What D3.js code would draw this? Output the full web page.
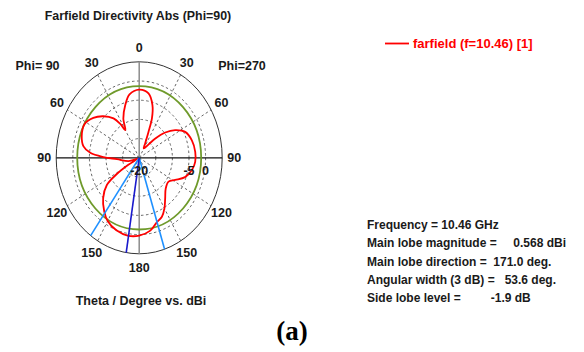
<!DOCTYPE html>
<html>
<head>
<meta charset="utf-8">
<script src="https://cdn.jsdelivr.net/npm/d3@7/dist/d3.min.js"></script>
<style>
  html, body { margin: 0; padding: 0; background: #fff; }
  svg { display: block; }
  text { font-family: "Liberation Sans", Arial, sans-serif; font-weight: bold; fill: #1a1a1a; }
</style>
</head>
<body>
<svg id="chart" width="584" height="352"></svg>
<script>
// Directivity cut at Phi=90 (left half of the plot), theta in degrees, value in dBi
const phi90Theta = [0, 10, 17, 25, 30, 33, 37, 45, 53, 62, 72, 80, 85, 89, 93, 105, 113, 119, 122, 126, 134, 143, 150, 160, 171, 180];
const phi90Dbi   = [-2.25, -3.25, -5.65, -8.7, -11.65, -9.4, -7.15, -4.7, -2.7, -1.33, -1.8, -2.97, -5.2, -9.25, -13.3, -16.7, -19.3, -16.25, -12.15, -7.95, -4.9, -2.5, -1.0, 0.1, 0.568, 0.25];

// Directivity cut at Phi=270 (right half of the plot), listed from theta=170 back up to the top
const phi270Theta = [170, 163, 156, 150, 143.5, 135, 125, 118, 110, 101.4, 93.6, 84.7, 74, 64, 56.4, 50, 44, 39, 29, 25.6, 22.5, 20.5, 16.2, 9.5];
const phi270Dbi   = [-0.75, -2.3, -3.2, -4.8, -6.85, -8.7, -9.2, -7.7, -5.3, -3.8, -3.1, -3.05, -3.5, -4.6, -7, -9.75, -13, -15.5, -17.2, -15.85, -12.7, -9.05, -5.7, -3];

// Radial grid (dBi) and angular ticks (degrees theta)
const radialDomain = [-20, 5];
const ringLevels = [-15, -10, -5, 0];
const ringLabels = [-20, -5, 0];
const thetaTicks = [0, 30, 60, 90, 120, 150, 180];
const spokeAngles = [30, 60, 120, 150, 210, 240, 300, 330];

// Summary of the main lobe
const frequencyGHz = 10.46;
const mainLobeDbi = 0.568;
const mainLobeDir = 171.0;
const beamWidth3dB = 53.6;
const sideLobeLevel = -1.9;

const titleText = "Farfield Directivity Abs (Phi=90)";
const axisTitle = "Theta / Degree vs. dBi";
const legendText = "farfield (f=10.46) [1]";
const halfLabels = ["Phi= 90", "Phi=270"];
const infoLines = [
  "Frequency = " + frequencyGHz.toFixed(2) + " GHz",
  "Main lobe magnitude =     " + mainLobeDbi.toFixed(3) + " dBi",
  "Main lobe direction =  " + mainLobeDir.toFixed(1) + " deg.",
  "Angular width (3 dB) =   " + beamWidth3dB.toFixed(1) + " deg.",
  "Side lobe level =         " + sideLobeLevel.toFixed(1) + " dB"
];
const panelLabel = "(a)";

// ---- layout ----
const svg = d3.select("#chart");
const cx = 139.2, cy = 157.8;
const R = 96;            // vertical radius of the plot
const squeeze = 83 / 96; // the polar plot is drawn slightly narrower than tall

const rScale = d3.scaleLinear().domain(radialDomain).range([0, R]).clamp(true);

// display angle: 0 at top, increasing counter-clockwise (Phi=90 side on the left)
function px(angleDeg, r) { return cx - Math.sin(angleDeg * Math.PI / 180) * r * squeeze; }
function py(angleDeg, r) { return cy - Math.cos(angleDeg * Math.PI / 180) * r; }

const g = svg.append("g");

// dashed rings
g.selectAll("ellipse.ring").data(ringLevels).join("ellipse")
  .attr("class", "ring")
  .attr("cx", cx).attr("cy", cy)
  .attr("rx", d => rScale(d) * squeeze).attr("ry", d => rScale(d))
  .attr("fill", "none").attr("stroke", "#555").attr("stroke-width", 0.9)
  .attr("stroke-dasharray", "2.5,2.5");

// dashed spokes
g.selectAll("line.spoke").data(spokeAngles).join("line")
  .attr("class", "spoke")
  .attr("x1", cx).attr("y1", cy)
  .attr("x2", d => px(d, R)).attr("y2", d => py(d, R))
  .attr("stroke", "#555").attr("stroke-width", 0.9)
  .attr("stroke-dasharray", "2.5,2.5");

// outer circle
g.append("ellipse")
  .attr("cx", cx).attr("cy", cy).attr("rx", R * squeeze).attr("ry", R)
  .attr("fill", "none").attr("stroke", "#333").attr("stroke-width", 1);

// axes
g.append("line").attr("x1", cx).attr("x2", cx).attr("y1", cy - R).attr("y2", cy + R)
  .attr("stroke", "#8c8c8c").attr("stroke-width", 1.5);
g.append("line").attr("x1", cx - R * squeeze).attr("x2", cx + R * squeeze).attr("y1", cy).attr("y2", cy)
  .attr("stroke", "#111").attr("stroke-width", 1.2);

// side lobe reference circle
const sideLobeAbs = mainLobeDbi + sideLobeLevel;
g.append("ellipse")
  .attr("cx", cx).attr("cy", cy)
  .attr("rx", rScale(sideLobeAbs) * squeeze).attr("ry", rScale(sideLobeAbs))
  .attr("fill", "none").attr("stroke", "#6f9a2b").attr("stroke-width", 1.8);

// pattern curve
const pts = [];
phi90Theta.forEach((t, i) => pts.push([t, phi90Dbi[i]]));
phi270Theta.forEach((t, i) => pts.push([360 - t, phi270Dbi[i]]));
const line = d3.line()
  .x(d => px(d[0], rScale(d[1])))
  .y(d => py(d[0], rScale(d[1])))
  .curve(d3.curveCatmullRomClosed.alpha(0.5));
g.append("path").attr("d", line(pts))
  .attr("fill", "none").attr("stroke", "#ff0000").attr("stroke-width", 1.8);

// beam width and main lobe direction lines
const beamEdges = [mainLobeDir - beamWidth3dB / 2, mainLobeDir + beamWidth3dB / 2];
g.selectAll("line.beam").data(beamEdges).join("line")
  .attr("class", "beam")
  .attr("x1", cx).attr("y1", cy)
  .attr("x2", d => px(d, R)).attr("y2", d => py(d, R))
  .attr("stroke", "#1e90ff").attr("stroke-width", 1.6);
g.append("line")
  .attr("x1", cx).attr("y1", cy)
  .attr("x2", px(mainLobeDir, R)).attr("y2", py(mainLobeDir, R))
  .attr("stroke", "#1a1acc").attr("stroke-width", 1.6);

// radial labels along the horizontal axis
g.selectAll("text.rlab").data(ringLabels).join("text")
  .attr("class", "rlab")
  .attr("x", d => cx + rScale(d) * squeeze)
  .attr("y", cy + 17.5)
  .attr("text-anchor", "middle")
  .style("font-size", "12.5px")
  .text(d => d);

// angle labels on both halves
const angleLabels = [];
thetaTicks.forEach(t => {
  angleLabels.push({ a: t, t: t });
  if (t !== 0 && t !== 180) angleLabels.push({ a: 360 - t, t: t });
});
g.selectAll("text.alab").data(angleLabels).join("text")
  .attr("class", "alab")
  .attr("x", d => px(d.a, R * 1.145))
  .attr("y", d => py(d.a, R * 1.145) + 4.4)
  .attr("text-anchor", "middle")
  .style("font-size", "12.5px")
  .text(d => d.t);

// half labels
svg.append("text").attr("x", 37.5).attr("y", 70).attr("text-anchor", "middle")
  .style("font-size", "12.5px").text(halfLabels[0]);
svg.append("text").attr("x", 242).attr("y", 70).attr("text-anchor", "middle")
  .style("font-size", "12.5px").text(halfLabels[1]);

// titles
svg.append("text").attr("x", 138).attr("y", 20).attr("text-anchor", "middle")
  .style("font-size", "12.4px").text(titleText);
svg.append("text").attr("x", 141).attr("y", 305).attr("text-anchor", "middle")
  .style("font-size", "12.5px").text(axisTitle);

// legend
svg.append("line").attr("x1", 385).attr("x2", 409).attr("y1", 43.5).attr("y2", 43.5)
  .attr("stroke", "#ff0000").attr("stroke-width", 1.8);
svg.append("text").attr("x", 413).attr("y", 48).style("font-size", "13px")
  .style("fill", "#ff0000").text(legendText);

// summary block
svg.selectAll("text.info").data(infoLines).join("text")
  .attr("class", "info")
  .attr("x", 367).attr("y", (d, i) => 229 + i * 18.3)
  .style("font-size", "12px")
  .style("white-space", "pre")
  .attr("xml:space", "preserve")
  .text(d => d);

// panel label
svg.append("text").attr("x", 292).attr("y", 340).attr("text-anchor", "middle")
  .style("font-family", "'Liberation Serif', 'Times New Roman', serif")
  .style("font-size", "27px").style("fill", "#000").text(panelLabel);
</script>
</body>
</html>
